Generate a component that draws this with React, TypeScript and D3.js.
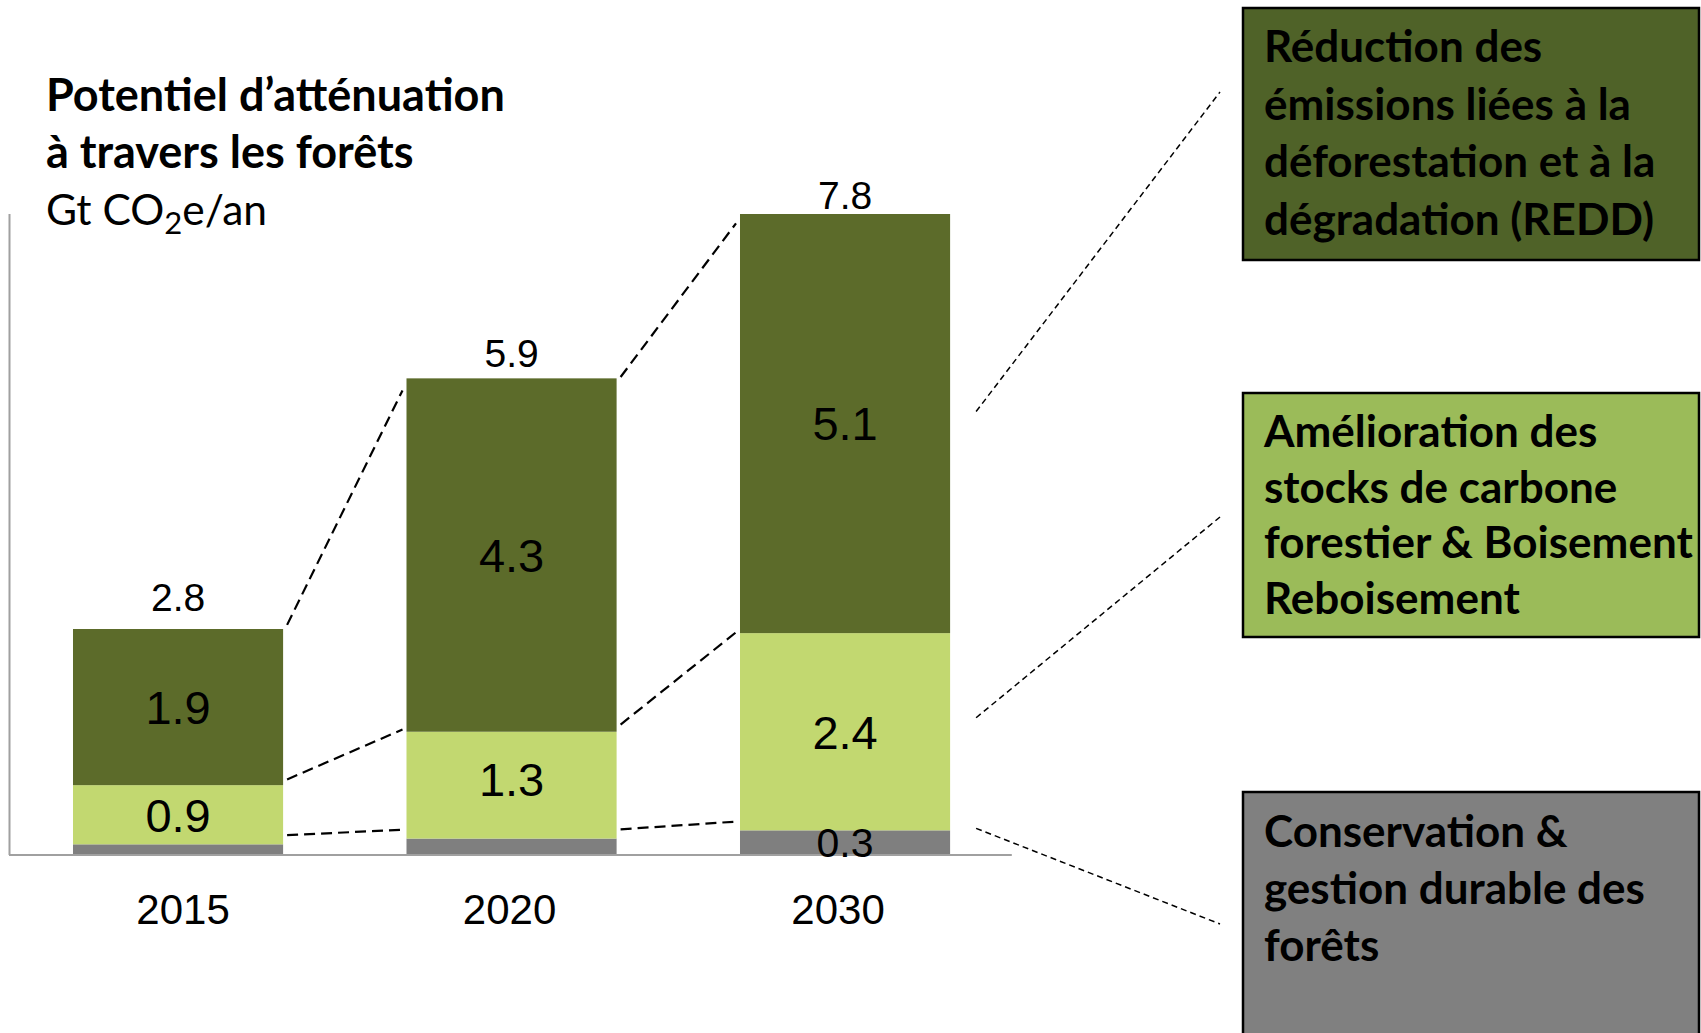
import React from "react";
import * as d3 from "d3";

const years = ["2015", "2020", "2030"];
const conservation = [0.13, 0.2, 0.3];
const stocks = [0.72, 1.3, 2.4];
const redd = [1.9, 4.3, 5.1];
const totalLabels = ["2.8", "5.9", "7.8"];
const conservationLabels = ["", "", "0.3"];
const stocksLabels = ["0.9", "1.3", "2.4"];
const reddLabels = ["1.9", "4.3", "5.1"];
const titleLines = ["Potentiel d\u2019atténuation", "à travers les forêts"];
const unitParts = ["Gt CO", "2", "e/an"];
const box1Lines = ["Réduction des", "émissions liées à la", "déforestation et à la", "dégradation (REDD)"];
const box2Lines = ["Amélioration des", "stocks de carbone", "forestier & Boisement", "Reboisement"];
const box3Lines = ["Conservation &", "gestion durable des", "forêts"];

const W = 1701;
const H = 1033;
const COL_DARK = "#5c6b2a";
const COL_LIGHT = "#c2d870";
const COL_GRAY = "#7f7f7f";
const BOX_COLS = ["#4f6228", "#9bbb59", "#808080"];
const keys = ["conservation", "stocks", "redd"];
const segColors: Record<string, string> = { conservation: COL_GRAY, stocks: COL_LIGHT, redd: COL_DARK };
const segLabels: Record<string, string[]> = { conservation: conservationLabels, stocks: stocksLabels, redd: reddLabels };
// layout nudges (px)
const totalGap = [18, 11, 5];
const yearShift = [5, -2, -7];

export default function App() {
  const rows = years.map((y, i) => ({ year: y, conservation: conservation[i], stocks: stocks[i], redd: redd[i] }));
  const series = d3.stack<any>().keys(keys)(rows);
  const x = d3.scaleBand().domain(years).range([11.3, 1011.8]).paddingInner(0.37).paddingOuter(0.185);
  const y = d3.scaleLinear().domain([0, 7.8]).range([855, 214]);
  const bw = x.bandwidth();
  const font = "'Liberation Sans', Arial, sans-serif";
  const calib = "Lato, 'Open Sans', sans-serif";

  const levelOffsets = [-9, -4, 4];
  const connectors: { x1: number; y1: number; x2: number; y2: number }[] = [];
  series.forEach((s, k) => {
    for (let i = 0; i < years.length - 1; i++) {
      const ax = (x(years[i]) as number) + bw;
      const ay = y(s[i][1]);
      const bx = x(years[i + 1]) as number;
      const by = y(s[i + 1][1]);
      const slope = (by - ay) / (bx - ax);
      const g = 4;
      connectors.push({ x1: ax + g, y1: ay + slope * g + levelOffsets[k], x2: bx - g, y2: by - slope * g + levelOffsets[k] });
    }
  });

  const boxes = [
    { top: 8, h: 252, lines: box1Lines, base: 62, lh: 57.5, endDy: 84 },
    { top: 393, h: 244, lines: box2Lines, base: 447, lh: 55.5, endDy: 124 },
    { top: 792, h: 262, lines: box3Lines, base: 847, lh: 57, endDy: 132 },
  ];
  const last = years.length - 1;
  const lastRight = (x(years[last]) as number) + bw;
  const annStarts = [
    y(series[1][last][1] + redd[last] / 2) - 12,
    y(series[0][last][1] + stocks[last] / 2) - 14,
    y(series[0][last][1]) - 2,
  ];
  const boxX = 1243;

  return (
    <svg width={W} height={H} style={{ position: "absolute", left: 0, top: 0, background: "#fff" }}>
      <style>{`body{margin:0}`}</style>
      <rect width={W} height={H} fill="#fff" />
      <text x={46} y={111} fontFamily={calib} fontWeight={700} fontSize={45} fill="#000">{titleLines[0]}</text>
      <text x={46} y={168} fontFamily={calib} fontWeight={700} fontSize={45} fill="#000">{titleLines[1]}</text>
      <text x={46} y={225} fontFamily={calib} fontSize={42.5} fill="#000">
        {unitParts[0]}
        <tspan fontSize={31} dy={9}>{unitParts[1]}</tspan>
        <tspan dy={-9}>{unitParts[2]}</tspan>
      </text>

      <line x1={9.5} x2={9.5} y1={y(7.8)} y2={y(0)} stroke="#a0a0a0" strokeWidth={2} />

      {series.map((s) => (
        <g key={s.key}>
          {s.map((d, i) => (
            <rect key={i} x={x(years[i])} y={y(d[1])} width={bw} height={y(d[0]) - y(d[1])} fill={segColors[s.key as string]} />
          ))}
        </g>
      ))}
      <line x1={9} x2={1011.8} y1={y(0)} y2={y(0)} stroke="#a0a0a0" strokeWidth={2} />

      {series.map((s) => (
        <g key={"l" + s.key}>
          {s.map((d, i) => {
            const lab = segLabels[s.key as string][i];
            if (!lab) return null;
            const small = s.key === "conservation";
            return (
              <text key={i} x={(x(years[i]) as number) + bw / 2} y={(y(d[0]) + y(d[1])) / 2 - (s.key === "stocks" && i === 1 ? 6 : 0)} dy="0.36em"
                textAnchor="middle" fontFamily={font} fontSize={small ? 41 : 47} fill="#000">{lab}</text>
            );
          })}
        </g>
      ))}
      {years.map((yr, i) => (
        <text key={yr} x={(x(yr) as number) + bw / 2} y={y(series[2][i][1]) - totalGap[i]} textAnchor="middle" fontFamily={font} fontSize={39} fill="#000">{totalLabels[i]}</text>
      ))}
      {years.map((yr, i) => (
        <text key={"x" + yr} x={(x(yr) as number) + bw / 2 + yearShift[i]} y={924} textAnchor="middle" fontFamily={font} fontSize={42} fill="#000">{yr}</text>
      ))}

      {connectors.map((c, i) => (
        <line key={i} {...c} stroke="#000" strokeWidth={2.2} strokeDasharray="11 6" />
      ))}

      {boxes.map((b, i) => (
        <line key={"a" + i} x1={lastRight + 26} y1={annStarts[i]} x2={boxX - 23} y2={b.top + b.endDy} stroke="#000" strokeWidth={1.5} strokeDasharray="6 4" />
      ))}

      {boxes.map((b, i) => (
        <g key={"b" + i}>
          <rect x={boxX} y={b.top} width={W - 2 - boxX} height={b.h} fill={BOX_COLS[i]} stroke="#000" strokeWidth={2.5} />
          {b.lines.map((ln, j) => (
            <text key={j} x={1264} y={b.base + j * b.lh} fontFamily={calib} fontWeight={700} fontSize={44} fill="#000">{ln}</text>
          ))}
        </g>
      ))}
    </svg>
  );
}
